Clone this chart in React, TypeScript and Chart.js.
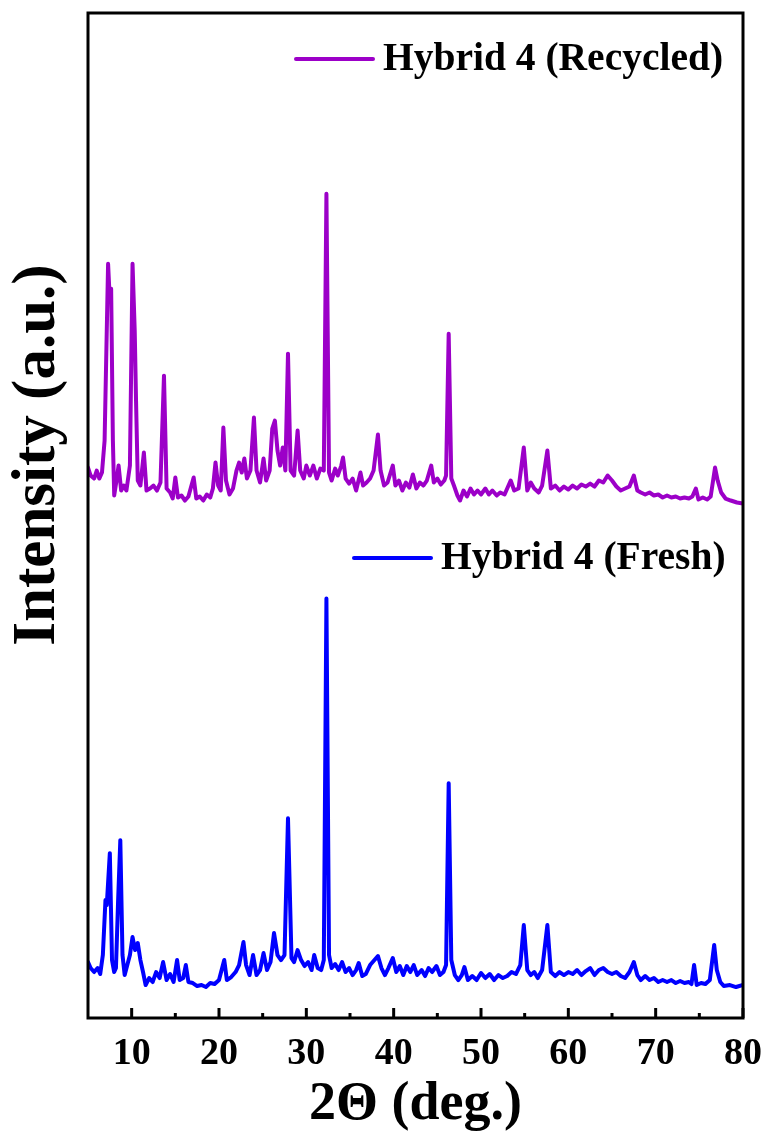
import React, { useEffect, useRef } from "react";
import { Chart, registerables } from "chart.js";

Chart.register(...registerables);

// Powder XRD patterns, intensity in arbitrary units
const freshTheta = [
  5.0, 5.3, 5.7, 6.1, 6.4, 6.7, 7.0, 7.15, 7.5, 7.75, 8.0, 8.2, 8.45, 8.7, 8.95, 9.2, 9.5, 9.8,
  10.1, 10.4, 10.7, 11.0, 11.3, 11.6, 12.0, 12.4, 12.8, 13.2, 13.6, 14.0, 14.4, 14.8, 15.2, 15.5,
  15.9, 16.2, 16.5, 17.0, 17.5, 18.0, 18.5, 19.0, 19.5, 20.0, 20.6, 20.9, 21.4, 21.9, 22.3, 22.8,
  23.1, 23.5, 23.9, 24.3, 24.7, 25.1, 25.5, 25.9, 26.3, 26.7, 27.1, 27.5, 27.9, 28.3, 28.6, 29.0,
  29.4, 29.8, 30.2, 30.6, 30.9, 31.3, 31.7, 32.0, 32.3, 32.6, 32.9, 33.3, 33.7, 34.1, 34.5, 34.9,
  35.3, 35.7, 36.0, 36.4, 36.8, 37.3, 37.8, 38.2, 38.6, 39.0, 39.4, 39.9, 40.3, 40.7, 41.1, 41.5,
  41.9, 42.3, 42.7, 43.2, 43.6, 44.0, 44.4, 44.9, 45.3, 45.7, 46.0, 46.3, 46.6, 47.0, 47.4, 47.8,
  48.1, 48.5, 49.0, 49.5, 50.0, 50.5, 51.0, 51.5, 52.0, 52.5, 53.0, 53.5, 54.0, 54.5, 54.9, 55.3,
  55.7, 56.1, 56.5, 57.0, 57.6, 58.0, 58.5, 59.0, 59.5, 60.0, 60.5, 61.0, 61.5, 62.0, 62.5, 63.0,
  63.5, 64.0, 64.5, 65.0, 65.5, 66.0, 66.5, 67.0, 67.5, 67.9, 68.3, 68.8, 69.3, 69.8, 70.3, 70.8,
  71.3, 71.8, 72.3, 72.8, 73.3, 73.8, 74.1, 74.4, 74.7, 75.2, 75.7, 76.2, 76.7, 77.0, 77.4, 77.8,
  78.5, 79.2, 80.0,
];
const freshIntensity = [
  56, 50, 46, 50, 44, 63, 118, 113, 165, 58, 46, 50, 118, 178, 63, 43, 53, 63,
  81, 68, 75, 58, 46, 33, 40, 36, 46, 40, 56, 38, 44, 36, 58, 38,
  40, 53, 36, 35, 32, 33, 31, 35, 34, 38, 58, 38, 41, 46, 53, 76,
  53, 43, 63, 43, 48, 65, 48, 56, 85, 63, 58, 63, 200, 60, 56, 68,
  58, 52, 56, 48, 63, 50, 48, 58, 420, 63, 50, 54, 48, 56, 46, 50,
  43, 48, 55, 42, 44, 53, 58, 62, 50, 43, 50, 60, 46, 52, 43, 52,
  46, 53, 43, 48, 42, 50, 46, 52, 43, 46, 53, 235, 58, 43, 38, 43,
  51, 38, 42, 38, 45, 40, 44, 38, 43, 40, 42, 46, 44, 53, 93, 48,
  43, 46, 40, 48, 93, 46, 42, 46, 43, 46, 44, 48, 43, 47, 50, 43,
  48, 50, 46, 44, 46, 42, 40, 46, 56, 43, 38, 42, 38, 40, 36, 38,
  36, 38, 35, 37, 35, 36, 34, 53, 33, 35, 34, 38, 73, 48, 36, 32,
  33, 31, 33,
];

const recycledTheta = [
  5.0, 5.3, 5.7, 6.0, 6.3, 6.6, 6.9, 7.3, 7.5, 7.65, 7.85, 8.0, 8.3, 8.5, 8.8, 9.1, 9.4, 9.8,
  10.1, 10.35, 10.5, 10.7, 11.0, 11.4, 11.7, 12.1, 12.5, 12.9, 13.3, 13.7, 14.0, 14.4, 14.7, 15.0,
  15.3, 15.7, 16.1, 16.5, 17.1, 17.4, 17.8, 18.2, 18.6, 19.0, 19.3, 19.6, 19.9, 20.2, 20.5, 20.8,
  21.2, 21.6, 22.0, 22.3, 22.6, 22.9, 23.2, 23.6, 24.0, 24.3, 24.7, 25.1, 25.4, 25.8, 26.1, 26.4,
  26.7, 27.0, 27.3, 27.6, 27.9, 28.2, 28.6, 29.0, 29.3, 29.7, 30.0, 30.4, 30.8, 31.2, 31.6, 32.0,
  32.3, 32.6, 32.9, 33.3, 33.6, 34.0, 34.2, 34.5, 34.9, 35.3, 35.7, 36.2, 36.5, 36.9, 37.3, 37.7,
  38.2, 38.5, 38.9, 39.3, 39.9, 40.2, 40.6, 41.0, 41.4, 41.8, 42.2, 42.6, 43.0, 43.4, 43.8, 44.3,
  44.6, 45.0, 45.4, 45.8, 46.0, 46.3, 46.6, 46.9, 47.3, 47.6, 48.0, 48.4, 48.8, 49.2, 49.6, 50.0,
  50.5, 50.9, 51.3, 51.8, 52.2, 52.7, 53.0, 53.4, 53.8, 54.3, 54.9, 55.3, 55.7, 56.1, 56.6, 57.0,
  57.6, 58.0, 58.5, 59.0, 59.5, 60.0, 60.5, 61.0, 61.5, 62.0, 62.5, 63.0, 63.5, 64.0, 64.5, 65.0,
  65.5, 66.0, 66.5, 67.0, 67.5, 67.9, 68.3, 68.8, 69.3, 69.8, 70.3, 70.8, 71.3, 71.8, 72.3, 72.8,
  73.3, 73.8, 74.2, 74.6, 74.9, 75.4, 75.9, 76.3, 76.8, 77.1, 77.5, 78.0, 78.6, 79.3, 80.0,
];
const recycledIntensity = [
  71, 63, 60, 68, 60, 66, 98, 275, 238, 250, 98, 43, 60, 73, 48, 53, 48, 73,
  275, 208, 138, 58, 53, 86, 48, 50, 53, 48, 56, 163, 50, 46, 40, 61,
  41, 43, 38, 42, 61, 40, 42, 38, 44, 41, 50, 76, 53, 48, 111, 58,
  44, 50, 68, 76, 66, 80, 60, 68, 121, 68, 56, 80, 58, 68, 110, 118,
  88, 73, 91, 68, 185, 68, 63, 108, 68, 60, 73, 63, 73, 60, 70, 68,
  345, 66, 58, 70, 63, 73, 81, 60, 55, 60, 48, 66, 53, 56, 60, 68,
  104, 68, 53, 56, 73, 53, 58, 48, 56, 51, 64, 50, 56, 53, 58, 73,
  56, 60, 54, 58, 63, 205, 60, 53, 43, 38, 48, 42, 50, 44, 48, 44,
  50, 44, 48, 43, 46, 44, 50, 58, 48, 50, 91, 48, 56, 50, 46, 53,
  88, 50, 53, 48, 52, 49, 53, 50, 54, 52, 55, 52, 58, 56, 63, 58,
  52, 48, 50, 52, 63, 48, 46, 44, 46, 43, 44, 41, 43, 41, 42, 40,
  41, 40, 42, 50, 39, 41, 39, 42, 71, 58, 46, 40, 38, 36, 35,
];

// vertical stacking offset for the recycled pattern
const recycledOffset = 480;

const thetaTicks = [10, 20, 30, 40, 50, 60, 70, 80];
const thetaMinorTicks = [15, 25, 35, 45, 55, 65, 75];

const seriesLabels = ["Hybrid 4 (Recycled)", "Hybrid 4 (Fresh)"];
const seriesColors = ["#9c00c8", "#0000ff"];
const yTitle = "Intensity (a.u.)";

const SERIF = "'Liberation Serif', 'Times New Roman', serif";

const framePlugin = {
  id: "frameAndLegend",
  afterDraw(chart: any) {
    const { ctx, chartArea, scales } = chart;
    const { left, right, top, bottom } = chartArea;
    ctx.save();
    // box frame
    ctx.strokeStyle = "#000";
    ctx.lineWidth = 3;
    ctx.strokeRect(left, top, right - left, bottom - top);
    // inward ticks on the bottom axis
    ctx.beginPath();
    for (const v of thetaTicks) {
      const x = scales.x.getPixelForValue(v);
      ctx.moveTo(x, bottom);
      ctx.lineTo(x, bottom - 10);
    }
    for (const v of thetaMinorTicks) {
      const x = scales.x.getPixelForValue(v);
      ctx.moveTo(x, bottom);
      ctx.lineTo(x, bottom - 5);
    }
    ctx.stroke();

    // rotated y-axis title, sitting a little above the middle of the axis
    ctx.save();
    ctx.translate(38, 455);
    ctx.rotate(-Math.PI / 2);
    ctx.font = `bold 61px ${SERIF}`;
    ctx.fillStyle = "#000";
    ctx.textAlign = "center";
    ctx.textBaseline = "middle";
    ctx.fillText(yTitle, 0, 0);
    ctx.restore();

    // legend entries placed beside each trace
    const entries = [
      { x0: 296, x1: 373, y: 59, textX: 383 },
      { x0: 354, x1: 431, y: 558, textX: 441 },
    ];
    ctx.font = `bold 39.5px ${SERIF}`;
    ctx.textBaseline = "middle";
    ctx.textAlign = "left";
    entries.forEach((e, i) => {
      ctx.strokeStyle = seriesColors[i];
      ctx.lineWidth = 4;
      ctx.lineCap = "round";
      ctx.beginPath();
      ctx.moveTo(e.x0, e.y);
      ctx.lineTo(e.x1, e.y);
      ctx.stroke();
      ctx.fillStyle = "#000";
      ctx.fillText(seriesLabels[i], e.textX, e.y + 1);
    });
    ctx.restore();
  },
};

export default function App() {
  const canvasRef = useRef<HTMLCanvasElement | null>(null);

  useEffect(() => {
    const canvas = canvasRef.current;
    if (!canvas) return;

    const recycledPoints = recycledTheta.map((t, i) => ({
      x: t,
      y: recycledIntensity[i] + recycledOffset,
    }));
    const freshPoints = freshTheta.map((t, i) => ({ x: t, y: freshIntensity[i] }));

    const lineStyle = {
      borderWidth: 4,
      pointRadius: 0,
      tension: 0,
      borderJoinStyle: "round" as const,
      borderCapStyle: "round" as const,
    };

    const chart = new Chart(canvas, {
      type: "line",
      data: {
        datasets: [
          { label: seriesLabels[0], data: recycledPoints, borderColor: seriesColors[0], ...lineStyle },
          { label: seriesLabels[1], data: freshPoints, borderColor: seriesColors[1], ...lineStyle },
        ],
      },
      options: {
        responsive: false,
        animation: false,
        events: [],
        layout: { padding: { top: 13, right: 26, left: 0, bottom: 0 } },
        plugins: {
          legend: { display: false },
          tooltip: { enabled: false },
        },
        scales: {
          x: {
            type: "linear",
            min: 5,
            max: 80,
            grid: { display: false, drawTicks: false },
            border: { display: false },
            afterBuildTicks: (scale: any) => {
              scale.ticks = thetaTicks.map((v) => ({ value: v }));
            },
            afterFit: (scale: any) => {
              scale.height = 119;
              scale.paddingLeft = 0;
              scale.paddingRight = 0;
            },
            ticks: {
              color: "#000",
              padding: 13,
              maxRotation: 0,
              autoSkip: false,
              font: { family: SERIF, size: 38, weight: "bold" },
            },
            title: {
              display: true,
              text: "2\u0398 (deg.)",
              color: "#000",
              padding: { top: 0, bottom: 0 },
              font: { family: SERIF, size: 54, weight: "bold" },
            },
          },
          y: {
            type: "linear",
            min: 0,
            max: 1006,
            grid: { display: false, drawTicks: false },
            border: { display: false },
            ticks: { display: false },
            afterFit: (scale: any) => {
              scale.width = 88;
            },
            title: { display: false },
          },
        },
      },
      plugins: [framePlugin],
    });

    return () => chart.destroy();
  }, []);

  return (
    <div style={{ position: "fixed", left: 0, top: 0, width: 769, height: 1137, background: "#fff" }}>
      <canvas ref={canvasRef} width={769} height={1137} style={{ width: 769, height: 1137, display: "block" }} />
    </div>
  );
}
